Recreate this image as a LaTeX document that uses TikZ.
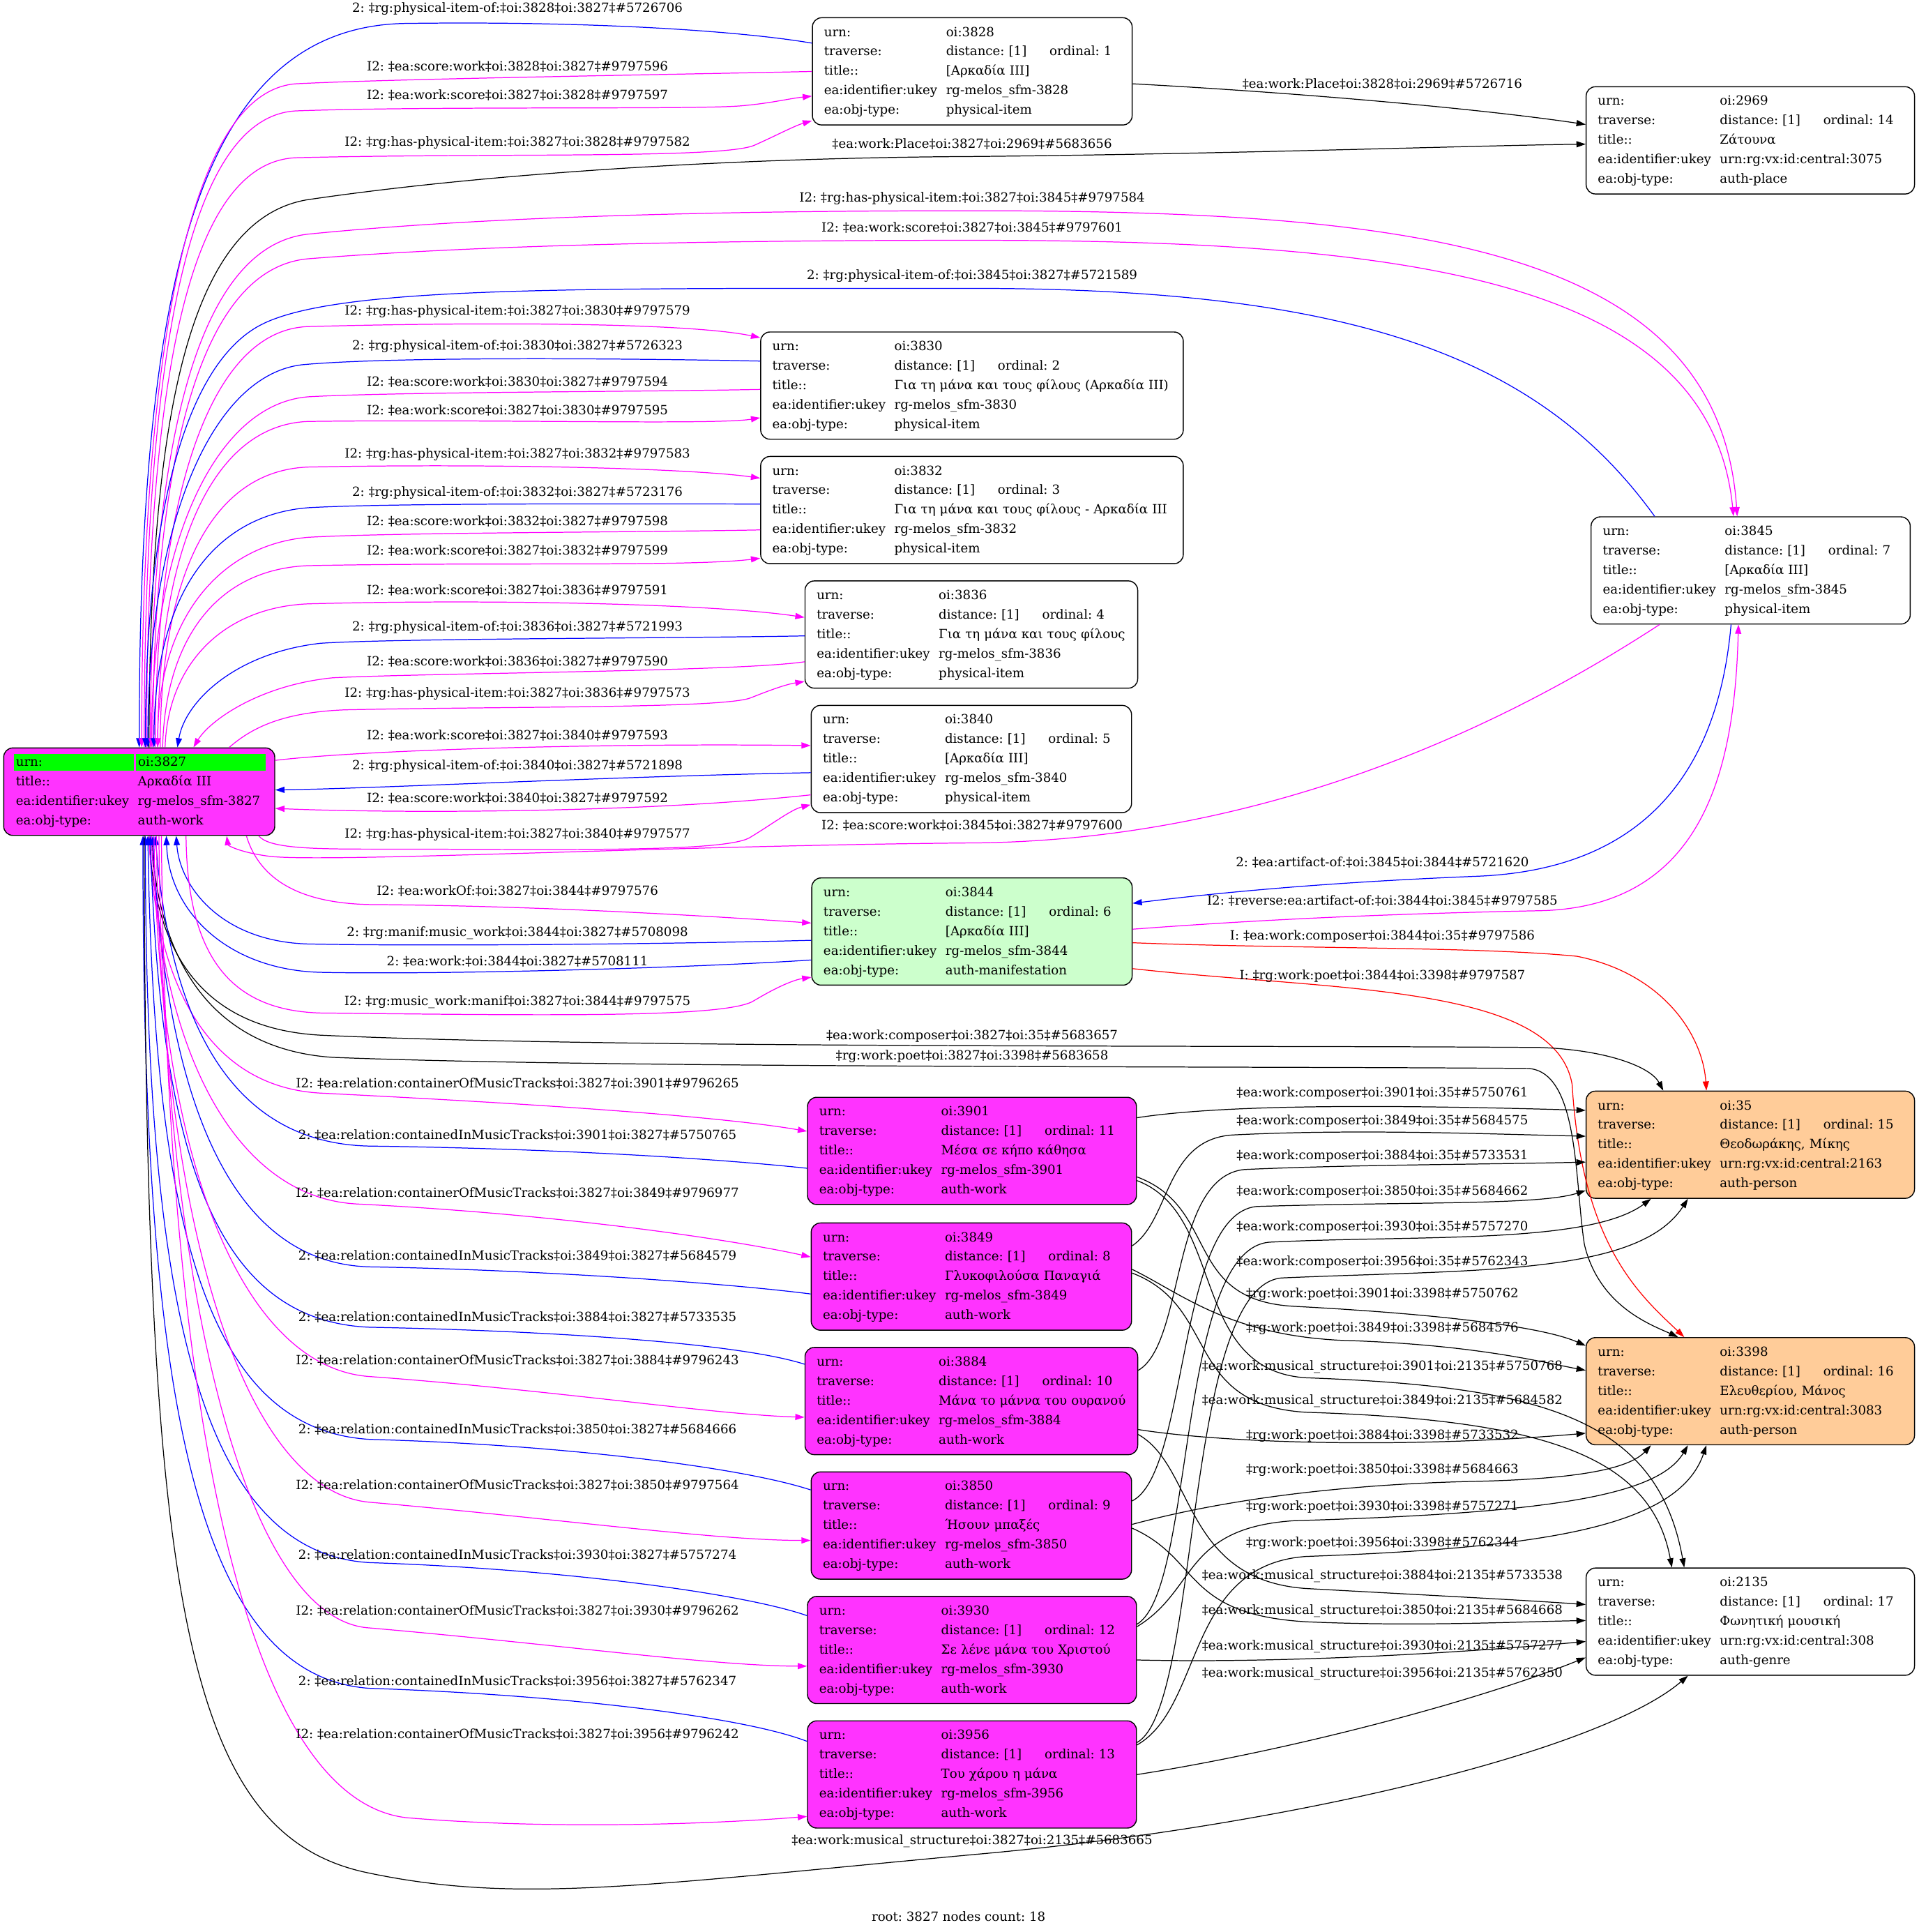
\documentclass[tikz,border=0pt]{standalone}
\usepackage{fontspec}
\setmainfont{DejaVu Serif}
\usetikzlibrary{arrows.meta}
\frenchspacing
\definecolor{mgE}{HTML}{FF00FF}
\definecolor{blE}{HTML}{0000FF}
\definecolor{rdE}{HTML}{FF0000}
\definecolor{mgF}{HTML}{FF33FF}
\definecolor{gnF}{HTML}{00FF00}
\definecolor{lgF}{HTML}{CCFFCC}
\definecolor{orF}{HTML}{FFCC99}
\newcommand{\gfont}{\fontsize{10.3}{15.8}\selectfont\frenchspacing}
\newcommand{\myrow}[2]{\mbox{\strut\makebox[99pt][l]{#1}#2}}
\newcommand{\mytrav}[1]{\makebox[84pt][l]{distance: [1]}ordinal: #1}
\newcommand{\recbody}[5]{\myrow{urn:}{#1}\\\myrow{traverse:}{\mytrav{#2}}\\\myrow{title::}{#3}\\\myrow{ea:identifier:ukey}{#4}\\\myrow{ea:obj-type:}{#5}}
\tikzset{
  rec/.style={draw=black, fill=white, line width=0.8pt, rounded corners=7.5pt, anchor=north west, inner xsep=9.5pt, inner ysep=0pt, minimum height=87pt, align=left, font=\gfont},
  lbl/.style={font=\gfont, inner sep=0pt, anchor=center},
  ed/.style={line width=0.7pt, -{Triangle[length=7.5pt,width=5pt]}},
  mg/.style={ed, draw=mgE},
  bl/.style={ed, draw=blE},
  rd/.style={ed, draw=rdE},
  bk/.style={ed, draw=black},
}
\begin{document}
\begin{tikzpicture}[x=1pt,y=-1pt]
\path[use as bounding box, fill=white] (0,0) rectangle (1557,1567.75);

% ---------- nodes ----------
\node[rec, fill=mgF, inner xsep=9.9pt, text width=200.2pt, minimum height=71pt] (n3827) at (2.6,606.5)
 {\mbox{\strut\rlap{\hspace*{-1.5pt}\textcolor{gnF}{\rule[-3.3pt]{97.5pt}{13.6pt}}}\rlap{\hspace*{97.3pt}\textcolor{gnF}{\rule[-3.3pt]{105.7pt}{13.6pt}}}\makebox[99.2pt][l]{urn:}oi:3827}\\
  \myrow{title::}{Αρκαδία III}\\\myrow{ea:identifier:ukey}{rg-melos\_sfm-3827}\\\myrow{ea:obj-type:}{auth-work}};
\node[rec, text width=240.5pt] (n3828) at (659,14) {\recbody{oi:3828}{1}{[Αρκαδία III]}{rg-melos\_sfm-3828}{physical-item}};
\node[rec, text width=247.5pt] (n2969) at (1287,70) {\recbody{oi:2969}{14}{Ζάτουνα}{urn:rg:vx:id:central:3075}{auth-place}};
\node[rec, text width=240pt] (n3845) at (1291,419) {\recbody{oi:3845}{7}{[Αρκαδία III]}{rg-melos\_sfm-3845}{physical-item}};
\node[rec, text width=324pt] (n3830) at (617,269) {\recbody{oi:3830}{2}{Για τη μάνα και τους φίλους (Αρκαδία III)}{rg-melos\_sfm-3830}{physical-item}};
\node[rec, text width=324pt] (n3832) at (617,370) {\recbody{oi:3832}{3}{Για τη μάνα και τους φίλους - Αρκαδία III}{rg-melos\_sfm-3832}{physical-item}};
\node[rec, text width=251pt] (n3836) at (653,471) {\recbody{oi:3836}{4}{Για τη μάνα και τους φίλους}{rg-melos\_sfm-3836}{physical-item}};
\node[rec, text width=241pt] (n3840) at (658,572) {\recbody{oi:3840}{5}{[Αρκαδία III]}{rg-melos\_sfm-3840}{physical-item}};
\node[rec, fill=lgF, text width=241pt] (n3844) at (658.5,712) {\recbody{oi:3844}{6}{[Αρκαδία III]}{rg-melos\_sfm-3844}{auth-manifestation}};
\node[rec, fill=orF, text width=247.5pt] (n35) at (1287,885) {\recbody{oi:35}{15}{Θεοδωράκης, Μίκης}{urn:rg:vx:id:central:2163}{auth-person}};
\node[rec, fill=mgF, text width=248pt] (n3901) at (655,890) {\recbody{oi:3901}{11}{Μέσα σε κήπο κάθησα}{rg-melos\_sfm-3901}{auth-work}};
\node[rec, fill=mgF, text width=241pt] (n3849) at (658,992) {\recbody{oi:3849}{8}{Γλυκοφιλούσα Παναγιά}{rg-melos\_sfm-3849}{auth-work}};
\node[rec, fill=orF, text width=247.5pt] (n3398) at (1287,1085) {\recbody{oi:3398}{16}{Ελευθερίου, Μάνος}{urn:rg:vx:id:central:3083}{auth-person}};
\node[rec, fill=mgF, text width=251pt] (n3884) at (653,1093) {\recbody{oi:3884}{10}{Μάνα το μάννα του ουρανού}{rg-melos\_sfm-3884}{auth-work}};
\node[rec, fill=mgF, text width=241pt] (n3850) at (658,1194) {\recbody{oi:3850}{9}{Ήσουν μπαξές}{rg-melos\_sfm-3850}{auth-work}};
\node[rec, fill=mgF, text width=248pt] (n3930) at (655,1295) {\recbody{oi:3930}{12}{Σε λένε μάνα του Χριστού}{rg-melos\_sfm-3930}{auth-work}};
\node[rec, text width=247.5pt] (n2135) at (1287,1272) {\recbody{oi:2135}{17}{Φωνητική μουσική}{urn:rg:vx:id:central:308}{auth-genre}};
\node[rec, fill=mgF, text width=248pt] (n3956) at (655,1396) {\recbody{oi:3956}{13}{Του χάρου η μάνα}{rg-melos\_sfm-3956}{auth-work}};

% ---------- edges: root top ----------
\draw[bl] (n3828.west |- 0,35) .. controls (600,25) and (480,17) .. (330,19) .. controls (160,21) and (113,230) .. (n3827.north -| 113,0);
\draw[mg] (n3828.west |- 0,58) .. controls (520,61) and (320,64) .. (240,68) .. controls (150,75) and (115,300) .. (n3827.north -| 115,0);
\draw[mg] (n3827.north -| 117,0) .. controls (117,300) and (150,95) .. (240,90) .. controls (350,86) and (560,89) .. (600,86) .. controls (625,84) and (640,80) .. (n3828.west |- 0,78);
\draw[mg] (n3827.north -| 119,0) .. controls (119,320) and (150,132) .. (240,128) .. controls (400,124) and (585,129) .. (612,118) .. controls (630,110) and (645,102) .. (n3828.west |- 0,98);
\draw[bk] (n3828.east |- 0,68) .. controls (1050,75) and (1200,88) .. (n2969.west |- 0,101);
\draw[bk] (n3827.north -| 121,0) .. controls (121,350) and (150,178) .. (250,162) .. controls (400,140) and (600,128) .. (789,127) .. controls (1000,125) and (1200,118) .. (n2969.west |- 0,117);
\draw[mg] (n3827.north -| 122,0) .. controls (122,360) and (160,200) .. (250,190) .. controls (400,175) and (600,171) .. (789,171) .. controls (1150,171) and (1395,200) .. (n3845.north -| 1410,0);
\draw[mg] (n3827.north -| 124,0) .. controls (124,380) and (160,218) .. (250,210) .. controls (400,198) and (600,195) .. (789,195) .. controls (1140,195) and (1388,225) .. (n3845.north -| 1407,0);
\draw[bl] (n3845.north -| 1343,0) .. controls (1250,290) and (1100,234) .. (789,234) .. controls (470,234) and (280,232) .. (215,262) .. controls (150,292) and (118,420) .. (n3827.north -| 118,0);
\draw[mg] (n3827.north -| 126,0) .. controls (126,420) and (165,268) .. (250,265) .. controls (400,261) and (560,262) .. (n3830.west |- 0,274);
\draw[bl] (n3830.west |- 0,293) .. controls (520,291) and (320,289) .. (245,296) .. controls (170,305) and (120,430) .. (n3827.north -| 120,0);
\draw[mg] (n3830.west |- 0,316) .. controls (520,318) and (320,318) .. (250,322) .. controls (175,328) and (123,440) .. (n3827.north -| 123,0);
\draw[mg] (n3827.north -| 128,0) .. controls (128,450) and (170,345) .. (250,342) .. controls (400,340) and (580,345) .. (n3830.west |- 0,339);
\draw[mg] (n3827.north -| 130,0) .. controls (130,470) and (170,382) .. (250,379) .. controls (400,376) and (560,380) .. (n3832.west |- 0,388);
\draw[bl] (n3832.west |- 0,409) .. controls (520,409) and (320,408) .. (250,412) .. controls (175,418) and (125,480) .. (n3827.north -| 125,0);
\draw[mg] (n3832.west |- 0,430) .. controls (520,432) and (320,432) .. (250,436) .. controls (180,442) and (128,500) .. (n3827.north -| 128,0);
\draw[mg] (n3827.north -| 132,0) .. controls (134,520) and (175,462) .. (250,459) .. controls (400,456) and (560,460) .. (n3832.west |- 0,453);
\draw[mg] (n3827.north -| 134,0) .. controls (136,540) and (180,493) .. (250,490) .. controls (400,486) and (580,490) .. (n3836.west |- 0,501);
\draw[bl] (n3836.west |- 0,516) .. controls (550,518) and (320,518) .. (260,522) .. controls (190,530) and (150,570) .. (n3827.north -| 144,0);
\draw[mg] (n3836.west |- 0,537) .. controls (600,545) and (350,546) .. (270,550) .. controls (210,556) and (170,585) .. (n3827.north -| 157,0);
\draw[mg] (n3827.north -| 186,0) .. controls (205,590) and (230,578) .. (280,576) .. controls (420,573) and (590,575) .. (610,566) .. controls (630,558) and (640,555) .. (n3836.west |- 0,553);
% ---------- root right ----------
\draw[mg] (n3827.east |- 0,617) .. controls (300,608) and (500,603) .. (n3840.west |- 0,605);
\draw[bl] (n3840.west |- 0,627) .. controls (500,630) and (300,640) .. (n3827.east |- 0,641);
\draw[mg] (n3840.west |- 0,645) .. controls (520,660) and (320,660) .. (n3827.east |- 0,656);
% ---------- root bottom ----------
\draw[mg] (n3827.south -| 210,0) .. controls (218,688) and (250,689) .. (300,689) .. controls (450,689) and (585,692) .. (608,680) .. controls (628,668) and (642,657) .. (n3840.west |- 0,653);
\draw[mg] (n3845.south -| 1347,0) .. controls (1250,570) and (1050,682) .. (789,684) .. controls (550,686) and (270,700) .. (220,695) .. controls (195,692) and (185,686) .. (n3827.south -| 184,0);
\draw[bl] (n3845.south -| 1405,0) .. controls (1395,620) and (1340,705) .. (1200,711) .. controls (1050,717) and (960,728) .. (n3844.east |- 0,733);
\draw[mg] (n3844.east |- 0,754) .. controls (1000,748) and (1100,742) .. (1250,739) .. controls (1385,736) and (1408,620) .. (n3845.south -| 1411,0);
\draw[mg] (n3827.south -| 200,0) .. controls (212,718) and (250,733) .. (300,734) .. controls (450,735) and (600,745) .. (n3844.west |- 0,749);
\draw[bl] (n3844.west |- 0,763) .. controls (550,766) and (350,768) .. (250,766) .. controls (180,764) and (146,720) .. (n3827.south -| 143,0);
\draw[bl] (n3844.west |- 0,779) .. controls (550,786) and (350,791) .. (260,789) .. controls (185,787) and (137,740) .. (n3827.south -| 135,0);
\draw[mg] (n3827.south -| 151,0) .. controls (152,780) and (190,820) .. (260,822) .. controls (450,824) and (590,826) .. (612,812) .. controls (632,800) and (645,795) .. (n3844.west |- 0,793);
\draw[rd] (n3844.east |- 0,765) .. controls (1050,770) and (1200,768) .. (1280,776) .. controls (1350,790) and (1382,840) .. (n35.north -| 1385,0);
\draw[rd] (n3844.east |- 0,786) .. controls (1080,804) and (1262,798) .. (1276,880) .. controls (1284,1010) and (1330,1050) .. (n3398.north -| 1367,0);
\draw[bk] (n3827.south -| 121,0) .. controls (125,780) and (170,835) .. (260,840) .. controls (500,851) and (1000,848) .. (1250,850) .. controls (1305,852) and (1340,866) .. (n35.north -| 1350,0);
\draw[bk] (n3827.south -| 123,0) .. controls (128,790) and (180,852) .. (270,858) .. controls (500,867) and (1000,865) .. (1240,867) .. controls (1282,869) and (1278,960) .. (1286,1010) .. controls (1298,1060) and (1340,1075) .. (n3398.north -| 1362,0);
\draw[mg] (n3827.south -| 121,0) .. controls (125,800) and (170,882) .. (260,887) .. controls (420,895) and (580,905) .. (n3901.west |- 0,918);
\draw[bl] (n3901.west |- 0,948) .. controls (580,940) and (450,932) .. (300,930) .. controls (200,928) and (140,850) .. (n3827.south -| 126,0);
\draw[mg] (n3827.south -| 123,0) .. controls (128,850) and (190,972) .. (290,977) .. controls (450,985) and (590,1005) .. (n3849.west |- 0,1020);
\draw[bl] (n3849.west |- 0,1050) .. controls (580,1040) and (420,1030) .. (300,1028) .. controls (190,1025) and (135,900) .. (n3827.south -| 124,0);
\draw[bl] (n3884.west |- 0,1107) .. controls (600,1090) and (450,1080) .. (300,1077) .. controls (180,1072) and (130,950) .. (n3827.south -| 122,0);
\draw[mg] (n3827.south -| 125,0) .. controls (128,950) and (200,1110) .. (300,1117) .. controls (450,1128) and (580,1148) .. (n3884.west |- 0,1150);
\draw[bl] (n3850.west |- 0,1209) .. controls (600,1190) and (450,1172) .. (300,1168) .. controls (170,1160) and (125,1000) .. (n3827.south -| 120,0);
\draw[mg] (n3827.south -| 127,0) .. controls (130,1000) and (200,1210) .. (300,1219) .. controls (450,1232) and (580,1250) .. (n3850.west |- 0,1250);
\draw[bl] (n3930.west |- 0,1311) .. controls (600,1292) and (450,1273) .. (300,1268) .. controls (160,1260) and (118,1050) .. (n3827.south -| 118,0);
\draw[mg] (n3827.south -| 129,0) .. controls (132,1050) and (200,1315) .. (300,1321) .. controls (450,1334) and (580,1352) .. (n3930.west |- 0,1352);
\draw[bl] (n3956.west |- 0,1413) .. controls (600,1392) and (450,1375) .. (300,1370) .. controls (150,1360) and (116,1100) .. (n3827.south -| 116,0);
\draw[mg] (n3827.south -| 131,0) .. controls (135,1150) and (200,1460) .. (330,1475) .. controls (450,1485) and (580,1480) .. (n3956.west |- 0,1474);
\draw[bk] (n3827.south -| 117,0) .. controls (118,1300) and (150,1490) .. (300,1520) .. controls (420,1545) and (520,1530) .. (789,1505) .. controls (1050,1482) and (1300,1420) .. (n2135.south -| 1370,0);
% ---------- middle to right ----------
\draw[bk] (n3901.east |- 0,907) .. controls (1000,895) and (1150,897) .. (n35.west |- 0,901);
\draw[bk] (n3849.east |- 0,1011) .. controls (950,990) and (945,925) .. (1000,921) .. controls (1100,916) and (1200,920) .. (n35.west |- 0,922);
\draw[bk] (n3884.east |- 0,1112) .. controls (962,1090) and (950,955) .. (1010,949) .. controls (1100,945) and (1200,945) .. (n35.west |- 0,943);
\draw[bk] (n3850.east |- 0,1218) .. controls (965,1195) and (955,985) .. (1020,979) .. controls (1150,975) and (1250,978) .. (n35.west |- 0,966);
\draw[bk] (n3930.east |- 0,1318) .. controls (970,1290) and (955,1015) .. (1030,1008) .. controls (1150,1002) and (1290,1010) .. (n35.south -| 1340,0);
\draw[bk] (n3956.east |- 0,1414) .. controls (975,1385) and (960,1045) .. (1040,1037) .. controls (1200,1030) and (1330,1035) .. (n35.south -| 1370,0);
\draw[bk] (n3901.east |- 0,955) .. controls (990,980) and (960,1055) .. (1050,1060) .. controls (1200,1068) and (1260,1080) .. (n3398.west |- 0,1092);
\draw[bk] (n3849.east |- 0,1030) .. controls (960,1050) and (1000,1086) .. (1100,1088) .. controls (1200,1092) and (1250,1105) .. (n3398.west |- 0,1112);
\draw[bk] (n3901.east |- 0,958) .. controls (995,985) and (965,1112) .. (1060,1118) .. controls (1250,1125) and (1345,1150) .. (n2135.north -| 1367,0);
\draw[bk] (n3849.east |- 0,1033) .. controls (990,1060) and (960,1140) .. (1060,1146) .. controls (1250,1152) and (1340,1180) .. (n2135.north -| 1357,0);
\draw[bk] (n3884.east |- 0,1160) .. controls (1000,1172) and (1150,1175) .. (n3398.west |- 0,1163);
\draw[bk] (n3850.east |- 0,1237) .. controls (1000,1215) and (1100,1204) .. (1200,1202) .. controls (1280,1200) and (1322,1192) .. (n3398.south -| 1340,0);
\draw[bk] (n3930.east |- 0,1320) .. controls (972,1290) and (960,1240) .. (1050,1234) .. controls (1250,1228) and (1345,1215) .. (n3398.south -| 1370,0);
\draw[bk] (n3956.east |- 0,1416) .. controls (977,1385) and (962,1270) .. (1060,1263) .. controls (1250,1256) and (1362,1240) .. (n3398.south -| 1385,0);
\draw[bk] (n3884.east |- 0,1164) .. controls (970,1190) and (960,1282) .. (1060,1289) .. controls (1150,1294) and (1230,1298) .. (n2135.west |- 0,1302);
\draw[bk] (n3850.east |- 0,1240) .. controls (975,1265) and (960,1310) .. (1060,1316) .. controls (1150,1320) and (1230,1316) .. (n2135.west |- 0,1315);
\draw[bk] (n3930.east |- 0,1347) .. controls (1050,1350) and (1200,1340) .. (n2135.west |- 0,1332);
\draw[bk] (n3956.east |- 0,1440) .. controls (1050,1420) and (1200,1380) .. (n2135.west |- 0,1345);

% ---------- labels ----------
\foreach \yy/\lt [count=\i] in {
 7/{2: ‡rg:physical-item-of:‡oi:3828‡oi:3827‡\#5726706},
 54/{I2: ‡ea:score:work‡oi:3828‡oi:3827‡\#9797596},
 77/{I2: ‡ea:work:score‡oi:3827‡oi:3828‡\#9797597},
 116/{I2: ‡rg:has-physical-item:‡oi:3827‡oi:3828‡\#9797582},
 253/{I2: ‡rg:has-physical-item:‡oi:3827‡oi:3830‡\#9797579},
 281/{2: ‡rg:physical-item-of:‡oi:3830‡oi:3827‡\#5726323},
 310/{I2: ‡ea:score:work‡oi:3830‡oi:3827‡\#9797594},
 333/{I2: ‡ea:work:score‡oi:3827‡oi:3830‡\#9797595},
 369/{I2: ‡rg:has-physical-item:‡oi:3827‡oi:3832‡\#9797583},
 400/{2: ‡rg:physical-item-of:‡oi:3832‡oi:3827‡\#5723176},
 423/{I2: ‡ea:score:work‡oi:3832‡oi:3827‡\#9797598},
 447/{I2: ‡ea:work:score‡oi:3827‡oi:3832‡\#9797599},
 479/{I2: ‡ea:work:score‡oi:3827‡oi:3836‡\#9797591},
 509/{2: ‡rg:physical-item-of:‡oi:3836‡oi:3827‡\#5721993},
 537/{I2: ‡ea:score:work‡oi:3836‡oi:3827‡\#9797590},
 563/{I2: ‡rg:has-physical-item:‡oi:3827‡oi:3836‡\#9797573},
 597/{I2: ‡ea:work:score‡oi:3827‡oi:3840‡\#9797593},
 622/{2: ‡rg:physical-item-of:‡oi:3840‡oi:3827‡\#5721898},
 648/{I2: ‡ea:score:work‡oi:3840‡oi:3827‡\#9797592},
 677/{I2: ‡rg:has-physical-item:‡oi:3827‡oi:3840‡\#9797577},
 723/{I2: ‡ea:workOf:‡oi:3827‡oi:3844‡\#9797576},
 757/{2: ‡rg:manif:music\_work‡oi:3844‡oi:3827‡\#5708098},
 780/{2: ‡ea:work:‡oi:3844‡oi:3827‡\#5708111},
 813/{I2: ‡rg:music\_work:manif‡oi:3827‡oi:3844‡\#9797575},
 879/{I2: ‡ea:relation:containerOfMusicTracks‡oi:3827‡oi:3901‡\#9796265},
 921/{2: ‡ea:relation:containedInMusicTracks‡oi:3901‡oi:3827‡\#5750765},
 968/{I2: ‡ea:relation:containerOfMusicTracks‡oi:3827‡oi:3849‡\#9796977},
 1019/{2: ‡ea:relation:containedInMusicTracks‡oi:3849‡oi:3827‡\#5684579},
 1069/{2: ‡ea:relation:containedInMusicTracks‡oi:3884‡oi:3827‡\#5733535},
 1104/{I2: ‡ea:relation:containerOfMusicTracks‡oi:3827‡oi:3884‡\#9796243},
 1160/{2: ‡ea:relation:containedInMusicTracks‡oi:3850‡oi:3827‡\#5684666},
 1205/{I2: ‡ea:relation:containerOfMusicTracks‡oi:3827‡oi:3850‡\#9797564},
 1262/{2: ‡ea:relation:containedInMusicTracks‡oi:3930‡oi:3827‡\#5757274},
 1307/{I2: ‡ea:relation:containerOfMusicTracks‡oi:3827‡oi:3930‡\#9796262},
 1364/{2: ‡ea:relation:containedInMusicTracks‡oi:3956‡oi:3827‡\#5762347},
 1407/{I2: ‡ea:relation:containerOfMusicTracks‡oi:3827‡oi:3956‡\#9796242}}
 {\node[lbl] (la\i) at (420,\yy) {\lt};}
\foreach \yy/\lt [count=\i] in {
 117/{‡ea:work:Place‡oi:3827‡oi:2969‡\#5683656},
 161/{I2: ‡rg:has-physical-item:‡oi:3827‡oi:3845‡\#9797584},
 185/{I2: ‡ea:work:score‡oi:3827‡oi:3845‡\#9797601},
 224/{2: ‡rg:physical-item-of:‡oi:3845‡oi:3827‡\#5721589},
 670/{I2: ‡ea:score:work‡oi:3845‡oi:3827‡\#9797600},
 841/{‡ea:work:composer‡oi:3827‡oi:35‡\#5683657},
 857/{‡rg:work:poet‡oi:3827‡oi:3398‡\#5683658},
 1494/{‡ea:work:musical\_structure‡oi:3827‡oi:2135‡\#5683665}}
 {\node[lbl] (lb\i) at (789,\yy) {\lt};}
\foreach \yy/\lt [count=\i] in {
 68/{‡ea:work:Place‡oi:3828‡oi:2969‡\#5726716},
 700/{2: ‡ea:artifact-of:‡oi:3845‡oi:3844‡\#5721620},
 731/{I2: ‡reverse:ea:artifact-of:‡oi:3844‡oi:3845‡\#9797585},
 760/{I: ‡ea:work:composer‡oi:3844‡oi:35‡\#9797586},
 792/{I: ‡rg:work:poet‡oi:3844‡oi:3398‡\#9797587},
 887/{‡ea:work:composer‡oi:3901‡oi:35‡\#5750761},
 910/{‡ea:work:composer‡oi:3849‡oi:35‡\#5684575},
 938/{‡ea:work:composer‡oi:3884‡oi:35‡\#5733531},
 967/{‡ea:work:composer‡oi:3850‡oi:35‡\#5684662},
 996/{‡ea:work:composer‡oi:3930‡oi:35‡\#5757270},
 1024/{‡ea:work:composer‡oi:3956‡oi:35‡\#5762343},
 1050/{‡rg:work:poet‡oi:3901‡oi:3398‡\#5750762},
 1078/{‡rg:work:poet‡oi:3849‡oi:3398‡\#5684576},
 1109/{‡ea:work:musical\_structure‡oi:3901‡oi:2135‡\#5750768},
 1137/{‡ea:work:musical\_structure‡oi:3849‡oi:2135‡\#5684582},
 1165/{‡rg:work:poet‡oi:3884‡oi:3398‡\#5733532},
 1193/{‡rg:work:poet‡oi:3850‡oi:3398‡\#5684663},
 1223/{‡rg:work:poet‡oi:3930‡oi:3398‡\#5757271},
 1252/{‡rg:work:poet‡oi:3956‡oi:3398‡\#5762344},
 1279/{‡ea:work:musical\_structure‡oi:3884‡oi:2135‡\#5733538},
 1307/{‡ea:work:musical\_structure‡oi:3850‡oi:2135‡\#5684668},
 1336/{‡ea:work:musical\_structure‡oi:3930‡oi:2135‡\#5757277},
 1358/{‡ea:work:musical\_structure‡oi:3956‡oi:2135‡\#5762350}}
 {\node[lbl] (lc\i) at (1122,\yy) {\lt};}
\node[lbl] (foot) at (778,1555) {root: 3827 nodes count: 18};
\end{tikzpicture}
\end{document}
